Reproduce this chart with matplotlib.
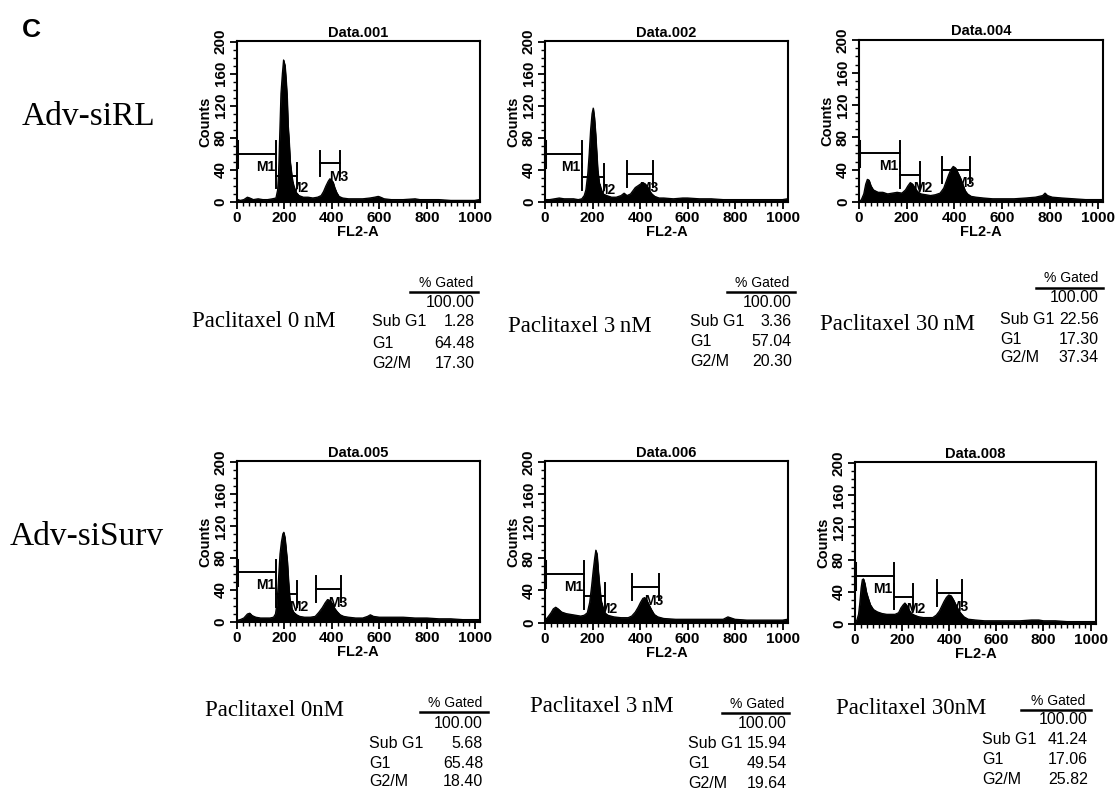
import matplotlib
matplotlib.use('Agg')
import matplotlib.pyplot as plt
from matplotlib.ticker import MultipleLocator

W, H = 1119, 790

# ---------------- data ----------------
row_labels = ['Adv-siRL', 'Adv-siSurv']
panel_titles = ['Data.001', 'Data.002', 'Data.004', 'Data.005', 'Data.006', 'Data.008']
conditions = ['Paclitaxel 0\u2009nM', 'Paclitaxel 3\u2009nM', 'Paclitaxel 30\u2009nM',
              'Paclitaxel 0nM', 'Paclitaxel 3\u2009nM', 'Paclitaxel 30nM']
x_ticks = [0, 200, 400, 600, 800, 1000]
y_ticks = [0, 40, 80, 120, 160, 200]

pct_total = ['100.00'] * 6
pct_subg1 = ['1.28', '3.36', '22.56', '5.68', '15.94', '41.24']
pct_g1 = ['64.48', '57.04', '17.30', '65.48', '49.54', '17.06']
pct_g2m = ['17.30', '20.30', '37.34', '18.40', '19.64', '25.82']
gate_names = ['Sub G1', 'G1', 'G2/M']

# histogram vertices (FL2-A channel, counts)
ch_001 = [0, 5, 15, 30, 45, 55, 70, 90, 110, 130, 150, 165, 172, 176, 180, 186, 192, 197, 203, 208,
          212, 216, 220, 225, 231, 238, 250, 262, 280, 300, 320, 340, 355, 365, 375, 385, 392, 398,
          405, 412, 420, 430, 445, 470, 500, 530, 560, 580, 595, 605, 620, 650, 700, 750, 770, 800,
          850, 900, 950, 1000, 1020]
ct_001 = [3, 3, 2, 3, 6, 5, 3, 4, 3, 3, 4, 5, 15, 35, 75, 135, 160, 177, 170, 150,
          130, 95, 77, 50, 35, 20, 12, 8, 6, 6, 5, 6, 8, 13, 20, 26, 29, 27,
          25, 18, 12, 7, 5, 4, 4, 4, 5, 6, 7, 6, 4, 3, 3, 4, 3, 3,
          3, 2, 2, 2, 3]

ch_002 = [0, 20, 40, 60, 80, 100, 120, 140, 155, 165, 172, 180, 186, 192, 198, 203, 208, 213, 218,
          222, 228, 235, 245, 260, 280, 300, 320, 333, 345, 360, 370, 380, 390, 400, 410, 420, 430,
          440, 450, 462, 480, 500, 540, 580, 600, 650, 700, 750, 800, 850, 900, 950, 1000, 1020]
ct_002 = [3, 3, 4, 5, 4, 4, 4, 3, 4, 8, 15, 35, 60, 90, 110, 117, 105, 85, 60,
          40, 25, 15, 10, 8, 6, 6, 8, 11, 8, 10, 14, 18, 20, 22, 24, 23, 20,
          14, 10, 7, 5, 5, 4, 5, 5, 4, 4, 3, 3, 3, 3, 3, 3, 4]

ch_004 = [0, 10, 20, 28, 35, 42, 50, 60, 80, 100, 120, 140, 160, 180, 195, 205, 215, 225, 235, 245,
          260, 280, 300, 320, 340, 355, 365, 375, 385, 395, 405, 415, 425, 435, 445, 455, 470, 490,
          520, 560, 600, 650, 700, 740, 770, 780, 790, 810, 850, 900, 950, 1000, 1020]
ct_004 = [0, 3, 10, 22, 28, 27, 20, 15, 12, 12, 10, 11, 12, 11, 15, 20, 24, 22, 17, 13,
          10, 9, 8, 9, 11, 17, 25, 33, 40, 44, 42, 36, 30, 22, 14, 10, 7, 6,
          5, 4, 4, 4, 5, 6, 8, 11, 8, 6, 5, 4, 3, 3, 3]

ch_005 = [0, 15, 30, 45, 55, 65, 80, 100, 120, 140, 155, 163, 170, 176, 182, 188, 194, 198, 203,
          208, 213, 218, 223, 230, 240, 252, 265, 285, 310, 330, 345, 360, 372, 382, 392, 402, 412,
          422, 435, 450, 470, 500, 530, 550, 562, 575, 600, 650, 700, 750, 800, 850, 900, 950,
          1000, 1020]
ct_005 = [2, 3, 5, 10, 11, 8, 6, 5, 5, 5, 6, 10, 25, 55, 85, 100, 110, 112, 105,
          90, 75, 50, 30, 18, 12, 9, 7, 6, 6, 7, 12, 18, 24, 28, 27, 23, 17,
          13, 9, 7, 6, 5, 5, 7, 9, 7, 6, 6, 6, 5, 5, 4, 4, 3,
          3, 3]

ch_006 = [0, 10, 25, 35, 45, 55, 70, 90, 110, 130, 150, 165, 178, 188, 196, 203, 209, 214, 219,
          224, 230, 236, 243, 252, 265, 290, 320, 350, 365, 380, 392, 402, 412, 420, 428, 438, 448,
          460, 475, 500, 550, 600, 650, 700, 750, 770, 780, 800, 850, 900, 950, 1000, 1020]
ct_006 = [3, 6, 12, 17, 19, 17, 13, 11, 10, 9, 8, 9, 12, 25, 45, 65, 80, 90, 85,
          65, 45, 28, 18, 12, 9, 7, 6, 6, 8, 13, 19, 25, 30, 31, 28, 22, 16,
          10, 7, 5, 4, 4, 4, 4, 4, 7, 6, 4, 3, 3, 3, 3, 4]

ch_008 = [0, 8, 15, 20, 26, 31, 36, 42, 48, 55, 65, 78, 95, 115, 135, 155, 170, 185, 195, 205,
          212, 220, 230, 240, 252, 270, 290, 310, 330, 345, 358, 368, 378, 388, 398, 408, 418, 428,
          438, 450, 462, 480, 510, 550, 600, 650, 700, 750, 780, 800, 850, 900, 950, 1000, 1020]
ct_008 = [0, 5, 12, 25, 45, 55, 56, 50, 40, 33, 24, 18, 15, 13, 12, 12, 12, 14, 20, 24,
          26, 23, 17, 13, 11, 9, 8, 8, 8, 11, 16, 22, 28, 33, 36, 35, 30, 24,
          18, 13, 9, 6, 5, 4, 4, 4, 4, 5, 5, 4, 4, 3, 3, 3, 3]

hist_channels = [ch_001, ch_002, ch_004, ch_005, ch_006, ch_008]
hist_counts = [ct_001, ct_002, ct_004, ct_005, ct_006, ct_008]

# marker gates (channels) and their bar heights (counts)
m1_end = [165, 155, 170, 165, 164, 164]
m1_y = [60, 60, 60, 62, 60, 60]
m2_end = [252, 247, 255, 252, 253, 248]
m2_y = [33, 31, 33, 35, 33, 34]
m3_start = [352, 347, 347, 335, 368, 350]
m3_end = [434, 455, 465, 440, 479, 455]
m3_y = [48, 35, 40, 41, 44, 38]

# ---------------- fonts ----------------
SERIF = ['Liberation Serif', 'DejaVu Serif']
SANS = ['Liberation Sans', 'DejaVu Sans']
TAB = SANS
TAB_SIZE = 11.5
plt.rcParams['font.family'] = SANS

# ---------------- layout (pixels) ----------------
axes_px = [(236.7, 480, 40.7, 202), (545, 788, 40.7, 202), (859, 1103, 39.5, 202),
           (236.7, 480, 461, 622), (545, 788, 461, 622.5), (855, 1096, 462, 624)]
tables = [
    dict(pac=(192, 322), lab=372, val=475, gc=446, gy=283, ul=(410, 478), uly=292, rows=(302, 322, 343, 364)),
    dict(pac=(508, 327), lab=690, val=792, gc=762, gy=283, ul=(727, 795), uly=292, rows=(302, 322, 342, 362)),
    dict(pac=(820, 325), lab=1000, val=1099, gc=1071, gy=278, ul=(1036, 1103), uly=288, rows=(298, 320, 339, 358)),
    dict(pac=(205, 711), lab=369, val=483, gc=455, gy=703, ul=(420, 488), uly=712, rows=(723, 743, 763, 782)),
    dict(pac=(530, 706), lab=688, val=787, gc=757, gy=704, ul=(722, 789), uly=713, rows=(724, 744, 764, 784)),
    dict(pac=(836, 709), lab=982, val=1088, gc=1058, gy=701, ul=(1021, 1091), uly=710, rows=(720, 739, 760, 779)),
]


def fx(x):
    return x / W


def fy(y):
    return 1 - y / H


fig = plt.figure(figsize=(W / 100, H / 100), dpi=100)
fig.patch.set_facecolor('white')

fig.text(fx(22), fy(30), 'C', fontsize=19, weight='bold', family=SANS, va='center', ha='left')
fig.text(fx(22), fy(117), row_labels[0], fontsize=24, family=SERIF, va='center', ha='left')
fig.text(fx(10), fy(537), row_labels[1], fontsize=24, family=SERIF, va='center', ha='left')

for i in range(6):
    l, r, t, b = axes_px[i]
    ax = fig.add_axes([fx(l), fy(b), (r - l) / W, (b - t) / H])
    ax.set_xlim(0, 1023)
    ax.set_ylim(0, 201)
    ch = hist_channels[i]
    ct = hist_counts[i]
    ax.fill_between(ch, ct, 0, color='black', lw=0.6, zorder=2)
    ax.plot(ch, ct, color='black', lw=0.9, zorder=2)

    # gates
    lw = 1.4
    cap = 16
    ax.plot([0, m1_end[i]], [m1_y[i], m1_y[i]], color='black', lw=lw, zorder=3, clip_on=False)
    ax.plot([0, 0], [m1_y[i] - cap, m1_y[i] + cap], color='black', lw=2.2, zorder=3, clip_on=False)
    ax.plot([m1_end[i], m1_end[i]], [m1_y[i] - cap, m1_y[i] + cap], color='black', lw=lw, zorder=3)
    ax.plot([m1_end[i], m2_end[i]], [m2_y[i], m2_y[i]], color='black', lw=lw, zorder=3)
    ax.plot([m1_end[i], m1_end[i]], [m2_y[i] - cap, m2_y[i] + cap], color='black', lw=lw, zorder=3)
    ax.plot([m2_end[i], m2_end[i]], [m2_y[i] - cap, m2_y[i] + cap], color='black', lw=lw, zorder=3)
    ax.plot([m3_start[i], m3_end[i]], [m3_y[i], m3_y[i]], color='black', lw=lw, zorder=3)
    for xx in (m3_start[i], m3_end[i]):
        ax.plot([xx, xx], [m3_y[i] - cap, m3_y[i] + cap], color='black', lw=lw, zorder=3)
    ax.text(m1_end[i] - 4, m1_y[i] - 16, 'M1', fontsize=10, weight='bold', ha='right',
            va='center', zorder=1)
    ax.text(m2_end[i] - 30, m2_y[i] - 16, 'M2', fontsize=10, weight='bold', ha='left',
            va='center', zorder=1)
    ax.text((m3_start[i] + m3_end[i]) / 2 - 5, m3_y[i] - 17, 'M3', fontsize=10, weight='bold',
            ha='left', va='center', zorder=1)

    ax.set_xticks(x_ticks)
    ax.set_yticks(y_ticks)
    ax.xaxis.set_minor_locator(MultipleLocator(25))
    ax.yaxis.set_minor_locator(MultipleLocator(10))
    ax.tick_params(which='major', direction='out', length=5, width=1.3, pad=1.5)
    ax.tick_params(which='minor', direction='out', length=3, width=1.0)
    ax.tick_params(axis='x', labelsize=11)
    ax.tick_params(axis='y', labelsize=11, labelrotation=90)
    for lab in ax.get_yticklabels() + ax.get_xticklabels():
        lab.set_fontweight('bold')
    for lab in ax.get_yticklabels():
        lab.set_va('center')
    ax.set_xlabel('FL2-A', fontsize=10.5, weight='bold', labelpad=0)
    ax.set_ylabel('Counts', fontsize=10.5, weight='bold', labelpad=1)
    ax.set_title(panel_titles[i], fontsize=10.5, weight='bold', pad=3)
    for s in ax.spines.values():
        s.set_linewidth(1.5)

    # gated table
    tb = tables[i]
    fig.text(fx(tb['pac'][0]), fy(tb['pac'][1]), conditions[i], fontsize=16.5, family=SERIF,
             ha='left', va='center')
    fig.text(fx(tb['gc']), fy(tb['gy']), '% Gated', fontsize=TAB_SIZE - 1.5, family=TAB,
             ha='center', va='center')
    fig.add_artist(plt.Line2D([fx(tb['ul'][0]), fx(tb['ul'][1])], [fy(tb['uly']), fy(tb['uly'])],
                              color='black', lw=1.8, transform=fig.transFigure))
    vals = [pct_total[i], pct_subg1[i], pct_g1[i], pct_g2m[i]]
    labs = [''] + gate_names
    for k in range(4):
        yy = fy(tb['rows'][k])
        if labs[k]:
            fig.text(fx(tb['lab']), yy, labs[k], fontsize=TAB_SIZE, family=TAB, ha='left', va='center')
        fig.text(fx(tb['val']), yy, vals[k], fontsize=TAB_SIZE, family=TAB, ha='right', va='center')

fig.savefig('out.png', dpi=100, facecolor='white')
